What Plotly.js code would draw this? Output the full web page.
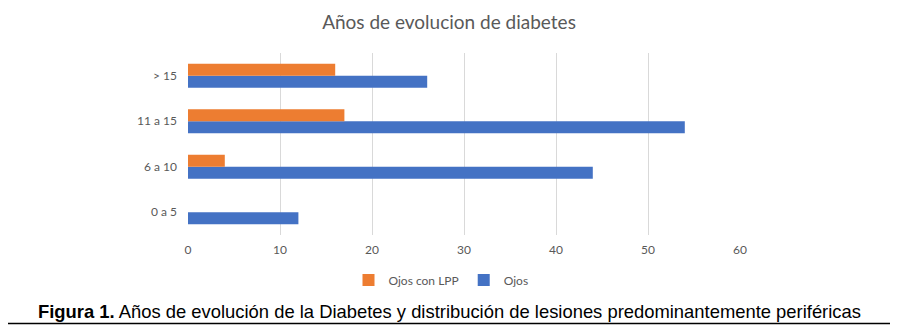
<!DOCTYPE html>
<html>
<head>
<meta charset="utf-8">
<script src="https://cdn.plot.ly/plotly-3.0.1.min.js"></script>
<style>html,body{margin:0;padding:0;background:#fff;}#chart{width:898px;height:331px;}</style>
</head>
<body>
<div id="chart"></div>
<script>
const categories = ["0 a 5", "6 a 10", "11 a 15", "> 15"];
const ojos = [12, 44, 54, 26];
const ojosConLPP = [0, 4, 17, 16];
const seriesNames = ["Ojos", "Ojos con LPP"];
const xTicks = [0, 10, 20, 30, 40, 50, 60];

const W = 898, H = 331, L = 188, R = 158, T = 53, B = 96;
const pw = W - L - R, ph = H - T - B;
const px = x => (x - L) / pw;
const py = y => (H - B - y) / ph;

const traces = [
  {type: "bar", orientation: "h", name: seriesNames[0], y: categories, x: ojos,
   marker: {color: "#4472c4"}},
  {type: "bar", orientation: "h", name: seriesNames[1], y: categories, x: ojosConLPP,
   marker: {color: "#ed7d31"}}
];

const gray = "#595959";
const layout = {
  width: W, height: H,
  margin: {l: L, r: R, t: T, b: B},
  paper_bgcolor: "#fff", plot_bgcolor: "#fff",
  barmode: "group", bargap: 0.47, bargroupgap: 0,
  showlegend: true,
  font: {family: "Lato, 'Open Sans', sans-serif", color: gray, size: 12},
  title: {text: "Años de evolucion de diabetes", font: {family: "Lato, 'Open Sans', sans-serif", size: 19, color: gray},
          x: 0.5, xanchor: "center", y: 1 - 22 / H, yanchor: "middle"},
  xaxis: {range: [0, 60], tickvals: xTicks, ticktext: xTicks.map(String), showgrid: true, gridcolor: "#d9d9d9",
          zeroline: false, showline: false, ticks: "", ticklabelstandoff: 6, fixedrange: true},
  yaxis: {type: "category", categoryarray: categories, showgrid: false, zeroline: false, showline: false,
          ticks: "", ticklabelstandoff: 10, fixedrange: true},
  legend: {orientation: "h", traceorder: "reversed", x: px(441), xanchor: "center", y: py(280), yanchor: "middle",
           font: {size: 12, color: gray}, itemwidth: 30},
  annotations: [
    {xref: "paper", yref: "paper", x: px(449), y: py(311), xanchor: "center", yanchor: "middle", showarrow: false,
     text: "<b>Figura 1.</b> Años de evolución de la Diabetes y distribución de lesiones predominantemente periféricas",
     font: {family: "'Liberation Sans', Arial, sans-serif", size: 18.4, color: "#000"}}
  ],
  shapes: [
    {type: "line", xref: "paper", yref: "paper", x0: px(8), x1: px(890), y0: py(323.5), y1: py(323.5),
     line: {color: "#000", width: 1.5}}
  ]
};

Plotly.newPlot("chart", traces, layout, {displayModeBar: false, staticPlot: true});
</script>
</body>
</html>
